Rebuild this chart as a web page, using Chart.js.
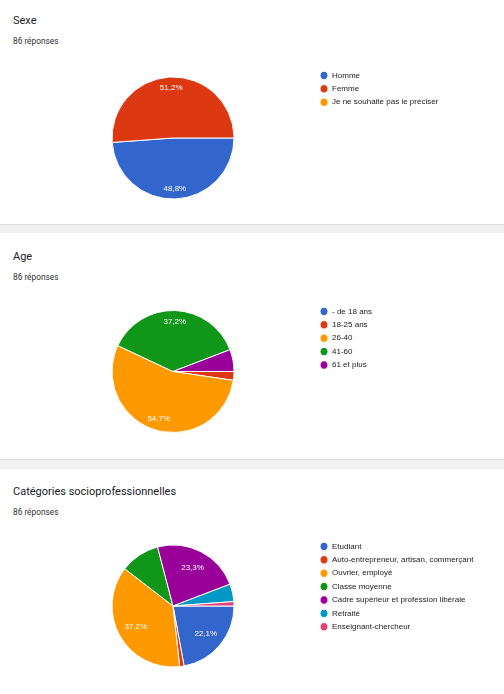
<!DOCTYPE html>
<html lang="fr">
<head>
<meta charset="utf-8">
<title>Résumé des réponses</title>
<script src="https://cdn.jsdelivr.net/npm/chart.js@4.4.1/dist/chart.umd.min.js"></script>
<style>
    html, body { margin: 0; padding: 0; background: #fff; }
    body { width: 504px; height: 694px; position: relative; overflow: hidden; font-family: Roboto, "Liberation Sans", sans-serif; }
    .band { position: absolute; left: 0; width: 504px; background: #f1f1f1; border-top: 1px solid #dedede; box-sizing: border-box; }
    .title { position: absolute; left: 13px; font-size: 11px; line-height: 12px; color: #202124; }
    .count { position: absolute; left: 13px; font-size: 8.3px; line-height: 10px; color: #303134; }
    .chart-box { position: absolute; left: 0; width: 504px; }
</style>
</head>
<body>
<div class="title" style="top:15px">Sexe</div>
<div class="count" style="top:36px">86 réponses</div>
<div class="chart-box" style="top:66px;height:144px"><canvas id="chart-sexe"></canvas></div>

<div class="band" style="top:224px;height:9px"></div>

<div class="title" style="top:251px">Age</div>
<div class="count" style="top:272px">86 réponses</div>
<div class="chart-box" style="top:302px;height:139px"><canvas id="chart-age"></canvas></div>

<div class="band" style="top:459px;height:10px"></div>

<div class="title" style="top:486px">Catégories socioprofessionnelles</div>
<div class="count" style="top:507px">86 réponses</div>
<div class="chart-box" style="top:537px;height:138px"><canvas id="chart-csp"></canvas></div>

<script>
// Google Forms palette
const palette = ['#3366cc', '#dc3912', '#ff9900', '#109618', '#990099', '#0099c6', '#dd4477'];

// Sexe (86 réponses)
const sexeLabels = ['Homme', 'Femme', 'Je ne souhaite pas le préciser'];
const sexeValues = [42, 44, 0];

// Age
const ageLabels = ['- de 18 ans', '18-25 ans', '26-40', '41-60', '61 et plus'];
const ageValues = [0, 2, 47, 32, 5];

// Catégories socioprofessionnelles
const cspLabels = [
    'Etudiant',
    'Auto-entrepreneur, artisan, commerçant',
    'Ouvrier, employé',
    'Classe moyenne',
    'Cadre supérieur et profession libérale',
    'Retraité',
    'Enseignant-chercheur'
];
const cspValues = [19, 1, 32, 9, 20, 4, 1];

const LEGEND_FONT = { family: '"Liberation Sans", Arial, sans-serif', size: 8 };
const LEGEND_PAD = 5.4;
const BOX_W = 8;
const PIE_CX = 173;        // pie centre, px from left
const LEGEND_LEFT = 314.6; // left edge of legend box
const PIE_R = 61;

// legend width is text driven, so work out the right padding that puts it at LEGEND_LEFT
function rightPadding(labels) {
    const ctx = document.createElement('canvas').getContext('2d');
    ctx.font = `${LEGEND_FONT.size}px ${LEGEND_FONT.family}`;
    const textW = Math.max(...labels.map(t => ctx.measureText(t).width));
    const legendW = LEGEND_PAD + BOX_W + LEGEND_FONT.size / 2 + textW + 10;
    return 504 - LEGEND_LEFT - legendW;
}

// percentage labels inside the big slices ("51,2%")
const sliceLabels = {
    id: 'sliceLabels',
    afterDatasetsDraw(chart, _args, opts) {
        const { ctx } = chart;
        const values = chart.data.datasets[0].data;
        const total = values.reduce((a, b) => a + b, 0);
        const meta = chart.getDatasetMeta(0);
        ctx.save();
        ctx.fillStyle = '#fff';
        ctx.font = `8px ${LEGEND_FONT.family}`;
        ctx.textAlign = 'center';
        ctx.textBaseline = 'middle';
        meta.data.forEach((arc, i) => {
            const pct = values[i] / total * 100;
            if (pct < 15) return;
            const { x, y, startAngle, endAngle, outerRadius } = arc.getProps(['x', 'y', 'startAngle', 'endAngle', 'outerRadius'], true);
            const mid = (startAngle + endAngle) / 2;
            const r = outerRadius * (opts.at || 0.78);
            ctx.fillText(pct.toFixed(1).replace('.', ',') + '%', x + Math.cos(mid) * r, y + Math.sin(mid) * r);
        });
        ctx.restore();
    }
};

function pie(id, labels, values, labelAt) {
    return new Chart(document.getElementById(id), {
        type: 'pie',
        data: {
            labels,
            datasets: [{
                data: values,
                backgroundColor: palette.slice(0, values.length),
                borderColor: '#fff',
                borderWidth: 1,
                radius: PIE_R
            }]
        },
        options: {
            responsive: true,
            maintainAspectRatio: false,
            animation: false,
            rotation: 90,   // Google starts at 3 o'clock
            layout: {
                padding: { left: 2 * PIE_CX - LEGEND_LEFT, right: rightPadding(labels), top: 0, bottom: 0 }
            },
            plugins: {
                tooltip: { enabled: false },
                sliceLabels: { at: labelAt },
                legend: {
                    position: 'right',
                    align: 'start',
                    labels: {
                        usePointStyle: true,
                        pointStyle: 'circle',
                        pointStyleWidth: BOX_W,
                        boxHeight: 6,
                        padding: LEGEND_PAD,
                        color: '#222',
                        font: LEGEND_FONT
                    }
                }
            }
        },
        plugins: [sliceLabels]
    });
}

pie('chart-sexe', sexeLabels, sexeValues, 0.83);
pie('chart-age', ageLabels, ageValues, 0.81);
pie('chart-csp', cspLabels, cspValues, 0.7);
</script>
</body>
</html>
